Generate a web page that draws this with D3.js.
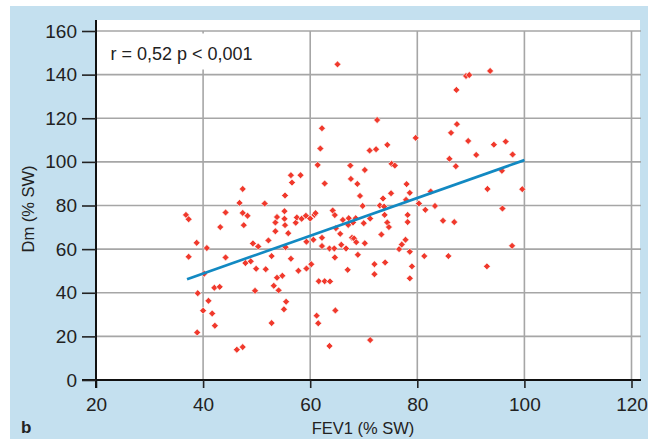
<!DOCTYPE html>
<html>
<head>
<meta charset="utf-8">
<script src="https://cdn.jsdelivr.net/npm/d3@7"></script>
<style>
  html, body { margin: 0; padding: 0; background: #fff; }
  svg { display: block; font-family: "Liberation Sans", Arial, sans-serif; }
</style>
</head>
<body>
<script>
// valeurs
var fev1 = [36.8, 37.3, 37.3, 38.8, 39.0, 38.9, 40.0, 40.2, 40.7, 41.0,
  41.7, 42.1, 42.2, 43.1, 43.2, 44.2, 44.2, 46.3, 46.8, 47.4,
  47.4, 47.4, 47.6, 47.9, 48.3, 48.9, 49.3, 49.7, 49.9, 50.3,
  51.5, 51.7, 52.2, 52.8, 52.8, 53.2, 53.5, 53.5, 53.8, 53.8,
  54.1, 54.8, 55.1, 55.3, 55.2, 55.2, 55.3, 55.4, 55.5, 55.9,
  56.4, 56.4, 56.6, 57.3, 57.5, 57.8, 58.2, 58.4, 59.2, 59.3,
  59.3, 60.0, 60.2, 60.6, 60.8, 61.0, 61.4, 61.2, 61.5, 61.6,
  61.9, 62.2, 62.2, 62.2, 62.7, 62.7, 63.6, 63.6, 63.7, 64.2,
  64.5, 64.6, 64.6, 64.7, 64.8, 65.1, 65.6, 65.8, 66.1, 66.7,
  67.0, 67.2, 67.1, 67.5, 67.6, 67.8, 68.0, 68.2, 68.5, 68.6,
  68.8, 68.9, 69.3, 69.8, 70.0, 70.2, 70.2, 71.1, 71.2, 71.2,
  72.0, 72.0, 72.3, 72.5, 73.0, 73.3, 73.6, 73.8, 73.9, 74.0,
  74.4, 74.4, 74.7, 75.1, 75.2, 75.8, 76.6, 77.1, 77.8, 77.9,
  78.0, 78.2, 78.2, 78.6, 78.6, 78.6, 79.0, 79.7, 80.3, 81.3,
  81.5, 82.5, 83.3, 84.8, 85.8, 86.0, 86.3, 86.9, 87.2, 87.3,
  87.4, 89.1, 89.5, 89.7, 91.0, 93.0, 93.1, 93.6, 94.3, 95.8,
  95.9, 96.5, 97.7, 97.8, 99.6];

var dm = [75.7, 73.7, 56.5, 62.9, 39.8, 21.8, 31.8, 48.7, 60.5, 36.3,
  30.5, 42.3, 24.9, 42.7, 70.1, 76.8, 56.2, 13.9, 81.2, 87.6,
  15.1, 76.6, 71.0, 53.6, 75.3, 54.4, 62.6, 40.9, 51.0, 61.2,
  80.9, 50.8, 64.0, 56.8, 26.1, 43.2, 68.2, 72.2, 74.7, 46.9,
  41.1, 47.8, 32.4, 84.6, 77.4, 73.9, 71.0, 60.9, 35.9, 67.3,
  93.9, 55.6, 90.5, 72.1, 74.5, 50.1, 93.9, 73.9, 75.3, 63.4,
  51.1, 74.0, 53.1, 64.3, 75.7, 76.5, 98.6, 29.5, 26.0, 45.3,
  106.1, 115.4, 65.2, 61.4, 90.1, 45.3, 15.6, 60.3, 45.2, 77.7,
  60.3, 75.6, 56.2, 31.9, 69.6, 144.7, 67.0, 62.0, 73.4, 60.3,
  50.5, 74.2, 71.1, 98.3, 92.2, 65.2, 72.2, 64.9, 74.2, 63.2,
  89.9, 57.4, 84.4, 79.8, 71.9, 96.3, 62.7, 105.2, 74.0, 18.3,
  53.1, 48.5, 105.8, 119.2, 80.0, 66.7, 83.2, 79.5, 75.7, 53.9,
  107.8, 72.2, 70.1, 85.6, 99.1, 98.3, 60.0, 62.1, 64.3, 82.6,
  89.8, 75.7, 72.4, 85.8, 58.8, 46.6, 52.1, 111.0, 80.9, 56.8,
  78.0, 86.4, 79.8, 73.0, 56.8, 101.4, 113.3, 72.4, 98.0, 133.0,
  117.3, 139.4, 109.6, 139.8, 103.2, 52.1, 87.6, 141.7, 107.9, 95.9,
  78.6, 109.3, 61.5, 103.4, 87.5];

// droite de régression
var regX = [37, 100];
var regY = [46.2, 100.8];

var xTicks = [20, 40, 60, 80, 100, 120];
var yTicks = [0, 20, 40, 60, 80, 100, 120, 140, 160];

var width = 648, height = 439;

var svg = d3.select("body").append("svg")
    .attr("width", width)
    .attr("height", height);

// fond bleu clair du cadre
svg.append("rect")
    .attr("x", 10).attr("y", 6)
    .attr("width", width - 10).attr("height", height - 6)
    .attr("fill", "#c4e0ef");

var x = d3.scaleLinear().domain([20, 120]).range([96, 631.5]);
var y = d3.scaleLinear().domain([0, 160]).range([380, 31]);

// zone blanche du graphique
svg.append("rect")
    .attr("x", 96).attr("y", 20)
    .attr("width", 640 - 96).attr("height", 380 - 20)
    .attr("fill", "#fff");

var grid = svg.append("g");
grid.selectAll(".hg").data(yTicks).join("line")
    .attr("x1", 96).attr("x2", 641)
    .attr("y1", d => y(d)).attr("y2", d => y(d))
    .attr("stroke", "#a6a6a6").attr("stroke-width", 1.6);
grid.selectAll(".vg").data(xTicks).join("line")
    .attr("x1", d => x(d)).attr("x2", d => x(d))
    .attr("y1", y(160)).attr("y2", y(0))
    .attr("stroke", "#a6a6a6").attr("stroke-width", 1.6);

// cadre du texte r / p
svg.append("rect")
    .attr("x", 97).attr("y", 33.5)
    .attr("width", 158).attr("height", 36)
    .attr("fill", "#fff");
svg.append("text")
    .attr("x", 110.5).attr("y", 60)
    .attr("font-size", 18)
    .attr("fill", "#222")
    .text("r = 0,52 p < 0,001");

// points
svg.append("g").selectAll("path")
    .data(fev1.map((v, i) => [v, dm[i]]))
    .join("path")
    .attr("d", d3.symbol(d3.symbolSquare, 24))
    .attr("transform", d => `translate(${x(d[0])},${y(d[1])}) rotate(45)`)
    .attr("fill", "#f0392c")
    .attr("stroke", "#fff")
    .attr("stroke-width", 0.6);

// régression
svg.append("line")
    .attr("x1", x(regX[0])).attr("y1", y(regY[0]))
    .attr("x2", x(regX[1])).attr("y2", y(regY[1]))
    .attr("stroke", "#1289c2")
    .attr("stroke-width", 2.7);

// axes
var xAxis = svg.append("g")
    .attr("transform", `translate(0,${y(0)})`)
    .call(d3.axisBottom(x).tickValues(xTicks).tickSize(8).tickPadding(10).tickSizeOuter(0));
var yAxis = svg.append("g")
    .attr("transform", `translate(${x(20)},0)`)
    .call(d3.axisLeft(y).tickValues(yTicks).tickSize(14).tickPadding(5).tickSizeOuter(0));

[xAxis, yAxis].forEach(function (a) {
    a.selectAll("text").attr("font-size", 19).attr("fill", "#222")
        .attr("font-family", "Liberation Sans, Arial, sans-serif");
    a.selectAll(".tick line").attr("stroke", "#222").attr("stroke-width", 1.6);
    a.select(".domain").attr("stroke", "#111").attr("stroke-width", 2);
});
xAxis.select(".domain").attr("d", "M82,0H641");
yAxis.select(".domain").attr("d", "M0,20V388");

// titres
svg.append("text")
    .attr("x", 363).attr("y", 434)
    .attr("text-anchor", "middle")
    .attr("font-size", 16.5)
    .attr("fill", "#222")
    .text("FEV1 (% SW)");
svg.append("text")
    .attr("transform", "translate(34,209) rotate(-90)")
    .attr("text-anchor", "middle")
    .attr("font-size", 16.5)
    .attr("fill", "#222")
    .text("Dm (% SW)");
svg.append("text")
    .attr("x", 21).attr("y", 433)
    .attr("font-size", 17)
    .attr("font-weight", "bold")
    .attr("fill", "#222")
    .text("b");
</script>
</body>
</html>
